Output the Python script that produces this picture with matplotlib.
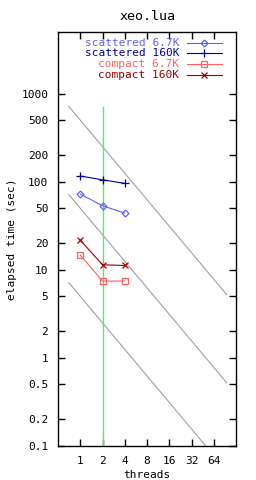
import matplotlib
matplotlib.use('Agg')
import matplotlib.pyplot as plt

# данные
threads = [1, 2, 4]
scattered_67k = [72.4, 53.3, 44.0]
scattered_160k = [116, 105, 95.7]
compact_67k = [14.7, 7.45, 7.45]
compact_160k = [21.7, 11.4, 11.2]

series_labels = ['scattered 6.7K', 'scattered 160K', 'compact 6.7K', 'compact 160K']
series_values = [scattered_67k, scattered_160k, compact_67k, compact_160k]
series_colors = ['#5f5fff', '#0000a0', '#ff5f5f', '#a00000']
series_markers = ['D', '+', 's', 'x']
marker_sizes = [3.5, 6, 4.5, 5]

# линии идеального масштабирования k / threads
ideal_k = [500, 50, 5]
ideal_x = [0.7, 96]
ref_thread = 2
ref_range = [0.1, 700]

xticks = [1, 2, 4, 8, 16, 32, 64]
yticks = [0.1, 0.2, 0.5, 1, 2, 5, 10, 20, 50, 100, 200, 500, 1000]
ytick_labels = ['0.1', '0.2', '0.5', '1', '2', '5', '10', '20', '50', '100', '200', '500', '1000']

plt.rcParams['font.family'] = ['DejaVu Sans Mono']
plt.rcParams['font.size'] = 8

fig = plt.figure(figsize=(2.56, 4.8), dpi=100)
ax = fig.add_axes([58 / 256, 1 - 446 / 480, 178 / 256, 414 / 480])

for k in ideal_k:
    ax.plot(ideal_x, [k / x for x in ideal_x], color='#a0a0a0', lw=0.8)
ax.plot([ref_thread, ref_thread], ref_range, color='#55ee55', lw=1)

for vals, c, m, ms in zip(series_values, series_colors, series_markers, marker_sizes):
    ax.plot(threads, vals, color=c, lw=0.8, marker=m, ms=ms, mfc='none', mec=c, mew=0.9)

ax.set_xscale('log', base=2)
ax.set_yscale('log')
ax.set_xlim(0.5, 128)
ax.set_ylim(0.1, 5000)
ax.set_xticks(xticks)
ax.set_xticklabels([str(t) for t in xticks])
ax.set_yticks(yticks)
ax.set_yticklabels(ytick_labels)
ax.minorticks_off()
ax.tick_params(direction='in', length=5, top=True, right=True, width=1, pad=7)
for s in ax.spines.values():
    s.set_linewidth(1)

ax.set_title('xeo.lua', pad=9)
ax.set_xlabel('threads', labelpad=3)
ax.set_ylabel('elapsed time (sec)', labelpad=3)

# легенда вручную, текст выровнен по правому краю
rows_y = [0.9734, 0.9486, 0.9227, 0.8961]
for y, lab, c, m, ms in zip(rows_y, series_labels, series_colors, series_markers, marker_sizes):
    ax.text(0.68, y, lab, color=c, ha='right', va='center', transform=ax.transAxes)
    ax.plot([0.725, 0.921], [y, y], color=c, lw=0.8, transform=ax.transAxes)
    ax.plot([0.823], [y], marker=m, ms=ms, mfc='none', mec=c, mew=0.9, transform=ax.transAxes)

fig.savefig('out.png', dpi=100)
